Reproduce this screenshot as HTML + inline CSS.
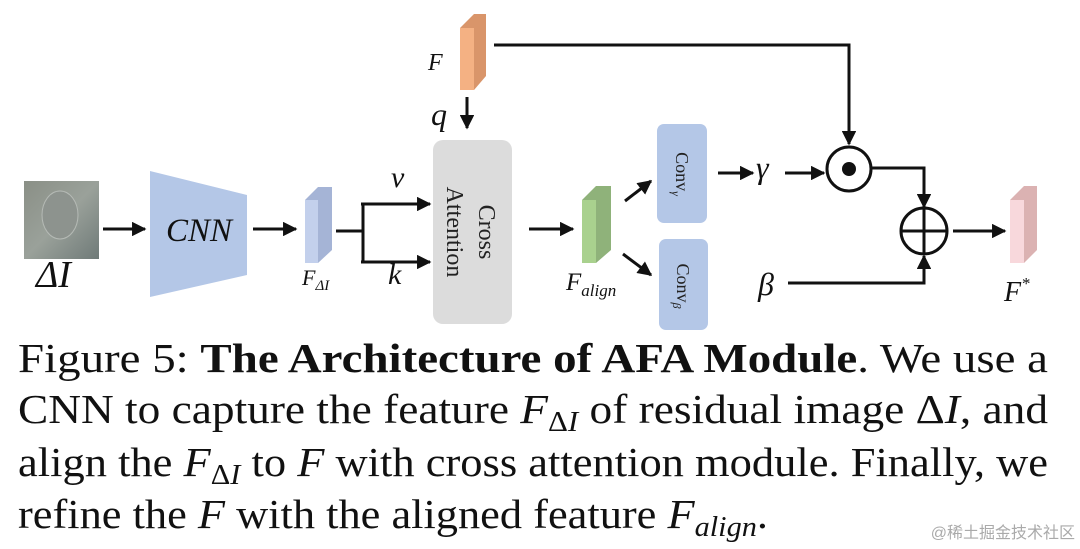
<!DOCTYPE html>
<html><head><meta charset="utf-8"><style>
html,body{margin:0;padding:0;background:#fff;}
svg{display:block;}
.t{font-family:"Liberation Serif",serif;}
</style></head><body>
<svg width="1080" height="549" viewBox="0 0 1080 549" xmlns="http://www.w3.org/2000/svg">
<defs>
<marker id="a" viewBox="0 0 10 10" refX="9" refY="5" markerWidth="4.8" markerHeight="4.8" orient="auto"><path d="M0,0 L10,5 L0,10 z" fill="#111"/></marker>
<linearGradient id="face" x1="0" y1="0" x2="1" y2="1"><stop offset="0" stop-color="#8a8f86"/><stop offset="0.5" stop-color="#9aa19a"/><stop offset="1" stop-color="#6f7a78"/></linearGradient>
</defs>
<g stroke="#111" stroke-width="3" fill="none">
<rect x="24" y="181" width="75" height="78" fill="url(#face)" stroke="none"/>
<ellipse cx="60" cy="215" rx="18" ry="24" fill="#8d938e" stroke="#b5bab5" stroke-width="1"/>
<line x1="103" y1="229" x2="145" y2="229" marker-end="url(#a)"/>
<polygon points="150,171 247,195 247,275 150,297" fill="#b4c7e7" stroke="none"/>
<line x1="253" y1="229" x2="296" y2="229" marker-end="url(#a)"/>
<polygon points="305,200 318,187 332,187 332,250 318,263 305,263" fill="#a5b4d6" stroke="none"/>
<rect x="305" y="200" width="13" height="63" fill="#c3d0ec" stroke="none"/>
<path d="M336 231 H363 M363 204 V262"/>
<line x1="361" y1="204" x2="430" y2="204" marker-end="url(#a)"/>
<line x1="361" y1="262" x2="430" y2="262" marker-end="url(#a)"/>
<rect x="433" y="140" width="79" height="184" rx="10" fill="#dcdcdc" stroke="none"/>
<polygon points="460,28 474,14 486,14 486,76 474,90 460,90" fill="#d9956a" stroke="none"/>
<rect x="460" y="28" width="14" height="62" fill="#f4b183" stroke="none"/>
<line x1="467" y1="97" x2="467" y2="128" marker-end="url(#a)"/>
<path d="M494 45 H849 V144" marker-end="url(#a)"/>
<line x1="529" y1="229" x2="573" y2="229" marker-end="url(#a)"/>
<polygon points="582,200 596,186 611,186 611,250 596,263 582,263" fill="#8fb27a" stroke="none"/>
<rect x="582" y="200" width="14" height="63" fill="#a9d18e" stroke="none"/>
<line x1="625" y1="201" x2="651" y2="181" marker-end="url(#a)"/>
<line x1="623" y1="254" x2="651" y2="275" marker-end="url(#a)"/>
<rect x="657" y="124" width="50" height="99" rx="7" fill="#b4c7e7" stroke="none"/>
<rect x="659" y="239" width="49" height="91" rx="7" fill="#b4c7e7" stroke="none"/>
<line x1="718" y1="173" x2="753" y2="173" marker-end="url(#a)"/>
<line x1="785" y1="173" x2="824" y2="173" marker-end="url(#a)"/>
<circle cx="849" cy="169" r="22" fill="#fff"/>
<circle cx="849" cy="169" r="7" fill="#111" stroke="none"/>
<path d="M871 168 H924 V207" marker-end="url(#a)"/>
<circle cx="924" cy="231" r="23" fill="#fff"/>
<path d="M901 231 H947 M924 208 V254"/>
<path d="M788 283 H924 V256" marker-end="url(#a)"/>
<line x1="953" y1="231" x2="1005" y2="231" marker-end="url(#a)"/>
<polygon points="1010,200 1024,186 1037,186 1037,250 1024,263 1010,263" fill="#dbb2b2" stroke="none"/>
<rect x="1010" y="200" width="14" height="63" fill="#f8d8dc" stroke="none"/>
</g>
<g class="t" fill="#111" font-style="italic">
<text x="36" y="287" font-size="38">ΔI</text>
<text x="199" y="241" font-size="33" text-anchor="middle">CNN</text>
<text x="302" y="285" font-size="22">F<tspan font-size="15" dy="5">ΔI</tspan></text>
<text x="391" y="187" font-size="30">v</text>
<text x="388" y="284" font-size="30">k</text>
<text x="431" y="125" font-size="32">q</text>
<text x="428" y="70" font-size="24">F</text>
<text x="566" y="290" font-size="25">F<tspan font-size="17" dy="6">align</tspan></text>
<text x="756" y="178" font-size="32">γ</text>
<text x="758" y="295" font-size="32">β</text>
<text x="1004" y="301" font-size="28">F<tspan font-size="17" dy="-12">*</tspan></text>
</g>
<g class="t" fill="#222" font-size="24">
<text transform="translate(479,232) rotate(90)" text-anchor="middle">Cross</text>
<text transform="translate(447,232) rotate(90)" text-anchor="middle">Attention</text>
<text transform="translate(676,174) rotate(90)" text-anchor="middle" font-size="18">Conv<tspan font-size="12" dy="4" font-style="italic">γ</tspan></text>
<text transform="translate(677,286) rotate(90)" text-anchor="middle" font-size="18">Conv<tspan font-size="12" dy="4" font-style="italic">β</tspan></text>
</g>
<g class="t" fill="#111" font-size="41">
<text x="18" y="372" textLength="1030" lengthAdjust="spacingAndGlyphs">Figure 5: <tspan font-weight="bold">The Architecture of AFA Module</tspan>.  We use a</text>
<text x="18" y="423" textLength="1030" lengthAdjust="spacingAndGlyphs">CNN to capture the feature <tspan font-style="italic">F</tspan><tspan font-size="28" dy="8">Δ<tspan font-style="italic">I</tspan></tspan><tspan dy="-8"> of residual image Δ<tspan font-style="italic">I</tspan>, and</tspan></text>
<text x="18" y="476" textLength="1030" lengthAdjust="spacingAndGlyphs">align the <tspan font-style="italic">F</tspan><tspan font-size="28" dy="8">Δ<tspan font-style="italic">I</tspan></tspan><tspan dy="-8"> to <tspan font-style="italic">F</tspan> with cross attention module. Finally, we</tspan></text>
<text x="18" y="528" textLength="750" lengthAdjust="spacingAndGlyphs">refine the <tspan font-style="italic">F</tspan> with the aligned feature <tspan font-style="italic">F</tspan><tspan font-size="28" dy="8" font-style="italic">align</tspan><tspan dy="-8">.</tspan></text>
</g>
<text x="1075" y="538" text-anchor="end" font-family="'Liberation Sans','Noto Sans CJK SC',sans-serif" font-size="16" fill="#aaa">@稀土掘金技术社区</text>
</svg>
</body></html>
